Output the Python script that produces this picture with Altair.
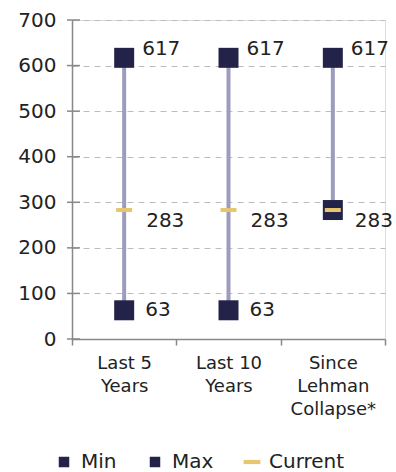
import altair as alt
import pandas as pd

categories = ["Last 5\nYears", "Last 10\nYears", "Since\nLehman\nCollapse*"]
min_vals = [63, 63, 283]
max_vals = [617, 617, 617]
current_vals = [283, 283, 283]
series = ["Min", "Max", "Current"]
y_ticks = [0, 100, 200, 300, 400, 500, 600, 700]

NAVY = "#23234a"
RULE = "#9c9cbf"
GOLD = "#e8c56f"
AXIS = "#888888"
FONT = "DejaVu Sans"
H = 319

wide = pd.DataFrame({"cat": categories, "min": min_vals, "max": max_vals, "cur": current_vals})
rows = []
for c, mn, mx, cu in zip(categories, min_vals, max_vals, current_vals):
    rows.append({"cat": c, "type": "Min", "value": mn, "sz": 400, "show": 0 if mn == cu else 1})
    rows.append({"cat": c, "type": "Max", "value": mx, "sz": 400, "show": 1})
    rows.append({"cat": c, "type": "Current", "value": cu, "sz": 100, "show": 1})
long = pd.DataFrame(rows)
ticks_df = pd.DataFrame({"value": y_ticks})

XS = alt.Scale(paddingInner=0, paddingOuter=0)
YS = alt.Scale(domain=[0, 700], nice=False)

X = alt.X("cat:N", sort=categories, title=None, scale=XS,
          axis=alt.Axis(labelExpr="split(datum.label, '\\n')", labelAngle=0,
                        labelLineHeight=23, labelFontSize=18, labelPadding=9,
                        labelFont=FONT, labelColor="#222", tickBand="extent",
                        tickSize=6, domainColor=AXIS, tickColor=AXIS,
                        domainWidth=1.5, tickWidth=1.5, grid=False,
                        labelBaseline="top"))
Xn = alt.X("cat:N", sort=categories, title=None, scale=XS)
Y = alt.Y("value:Q", title=None, scale=YS,
          axis=alt.Axis(values=y_ticks, labelFontSize=20, labelFont=FONT,
                        labelColor="#222", labelPadding=16, tickSize=0,
                        domainColor=AXIS, domainWidth=1.5,
                        grid=True, gridDash=[6, 5],
                        gridColor="#bdbdbd", gridWidth=1))
Yn = alt.Y("value:Q", title=None, scale=YS)

# crossing y ticks
yticks = alt.Chart(ticks_df).mark_rule(color=AXIS, strokeWidth=1.5).encode(
    x=alt.value(-5), x2=alt.value(8), y=Y)

rule = alt.Chart(wide).mark_rule(color=RULE, strokeWidth=4).encode(
    x=X, y=alt.Y("min:Q", scale=YS), y2="max:Q")

points = alt.Chart(long).mark_point(filled=True, opacity=1, strokeWidth=0).encode(
    x=Xn, y=Yn,
    color=alt.Color("type:N", title=None,
                    scale=alt.Scale(domain=series, range=[NAVY, NAVY, GOLD]),
                    legend=alt.Legend(orient="none", legendX=-18, legendY=432,
                                      direction="horizontal", labelFontSize=20,
                                      labelFont=FONT, labelColor="#222",
                                      symbolSize=110, columnPadding=28,
                                      labelOffset=7, symbolStrokeWidth=0)),
    shape=alt.Shape("type:N", title=None,
                    scale=alt.Scale(domain=series,
                                    range=["M-1,-1H1V1H-1Z", "M-1,-1H1V1H-1Z",
                                           "M-1.6,-0.4H1.6V0.4H-1.6Z"])),
    size=alt.Size("sz:Q", scale=None, legend=None),
)

txt = dict(font=FONT, fontSize=20, color="#222", align="left", baseline="middle")
max_lbl = alt.Chart(long).transform_filter("datum.type == 'Max'").mark_text(
    dx=18, dy=-9, **txt).encode(x=Xn, y=Yn, text="value:Q")
min_lbl = alt.Chart(long).transform_filter("datum.type == 'Min' && datum.show == 1").mark_text(
    dx=21, dy=0, **txt).encode(x=Xn, y=Yn, text="value:Q")
cur_lbl = alt.Chart(long).transform_filter("datum.type == 'Current'").mark_text(
    dx=22, dy=11, **txt).encode(x=Xn, y=Yn, text="value:Q")

chart = alt.layer(yticks, rule, points, max_lbl, min_lbl, cur_lbl).properties(
    width=313, height=H,
    autosize=alt.AutoSizeParams(type="none"),
    padding={"left": 72, "top": 20, "right": 11, "bottom": 133},
).configure_view(stroke=None).configure(background="white")

chart.save("out.html", embed_options={"renderer": "svg", "actions": False})
